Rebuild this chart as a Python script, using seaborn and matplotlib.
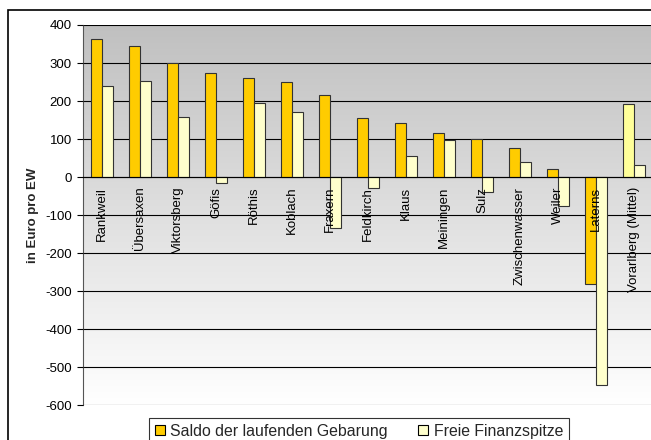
import numpy as np
import pandas as pd
import matplotlib
matplotlib.use('Agg')
import matplotlib.pyplot as plt
from matplotlib.patches import Patch, Rectangle
import seaborn as sns

gemeinden = ['Rankweil', 'Übersaxen', 'Viktorsberg', 'Göfis', 'Röthis', 'Koblach',
             'Fraxern', 'Feldkirch', 'Klaus', 'Meiningen', 'Sulz', 'Zwischenwasser',
             'Weiler', 'Laterns', 'Vorarlberg (Mittel)']
saldo = [362, 344, 300, 273, 260, 250, 215, 156, 143, 116, 101, 76, 21, -282, 193]
finanzspitze = [240, 253, 159, -15, 196, 170, -134, -28, 54, 97, -40, 39, -77, -547, 32]
serien = ['Saldo der laufenden Gebarung', 'Freie Finanzspitze']
y_ticks = list(range(-600, 401, 100))

df = pd.DataFrame({'Gemeinde': gemeinden, serien[0]: saldo, serien[1]: finanzspitze})
df_long = df.melt(id_vars='Gemeinde', var_name='Serie', value_name='Wert')

sns.set_theme(style='white')
plt.rcParams['font.family'] = ['Liberation Sans', 'DejaVu Sans']
plt.rcParams['axes.unicode_minus'] = False

fig = plt.figure(figsize=(6.51, 4.40), dpi=100)
ax = fig.add_axes([83 / 651, 35 / 440, 570 / 651, 380 / 440])

# grauer Verlauf im Hintergrund
grad = np.linspace(0, 1, 256).reshape(-1, 1)
ax.imshow(grad, cmap=matplotlib.colors.LinearSegmentedColormap.from_list('g', ['#ffffff', '#c0c0c0']),
          extent=[0, 1, 0, 1], transform=ax.transAxes, aspect='auto', origin='lower', zorder=0)

for y in y_ticks:
    ax.axhline(y, color='black', lw=0.8, zorder=0.5)

farben = {serien[0]: '#FFCC00', serien[1]: '#FFFFCC'}
sns.barplot(data=df_long, x='Gemeinde', y='Wert', hue='Serie', order=gemeinden,
            hue_order=serien, palette=farben, saturation=1, width=0.58, edgecolor='#333333',
            linewidth=0.8, legend=False, ax=ax, zorder=1)
ax.containers[0][len(gemeinden) - 1].set_facecolor('#FFFF99')

# x-Achse auf der Nulllinie, Beschriftung ueber den Balken
ax.set_axisbelow(False)
ax.spines['bottom'].set_position(('data', 0))
ax.spines['bottom'].set_color('black')
ax.spines['bottom'].set_linewidth(0.8)
ax.spines['left'].set_color('#555555')
ax.spines['left'].set_linewidth(0.8)
ax.spines['top'].set_visible(False)
ax.spines['right'].set_visible(False)

ax.set_xlim(-0.5, len(gemeinden) - 0.5)
ax.set_ylim(-600, 400)
ax.set_yticks(y_ticks)
ax.set_xticks(range(len(gemeinden)))
ax.set_xticklabels(gemeinden)
ax.set_xticks(np.arange(-0.5, len(gemeinden)), minor=True)
ax.tick_params(axis='x', which='major', length=0, pad=7, labelsize=9.5, colors='black',
               labelrotation=90)
ax.tick_params(axis='x', which='minor', length=4, width=0.8, direction='out', color='black')
ax.tick_params(axis='y', length=4, width=0.8, direction='out', left=True, labelsize=9.5,
               colors='black', pad=4)

ax.set_xlabel('')
ax.set_ylabel('in Euro pro EW', fontsize=9.5, fontweight='bold')
ax.yaxis.set_label_coords(-0.078, 0.5)

# Rahmen des Diagramms
fig.patches.append(Rectangle((8 / 651, -0.1), 1.0, 1 - 10 / 440 + 0.1, transform=fig.transFigure,
                             fill=False, edgecolor='black', lw=1.2))

handles = [Patch(facecolor=farben[s], edgecolor='black', lw=0.8) for s in serien]
leg = fig.legend(handles, serien, loc='upper left', bbox_to_anchor=(149 / 651, 1 - 418 / 440),
                 ncol=2, fontsize=11.4, frameon=True, fancybox=False, edgecolor='black',
                 handlelength=0.65, handleheight=0.65, handletextpad=0.35, columnspacing=1.9,
                 borderaxespad=0, borderpad=0.35)
leg.get_frame().set_linewidth(0.8)

fig.savefig('out.png', dpi=100)
